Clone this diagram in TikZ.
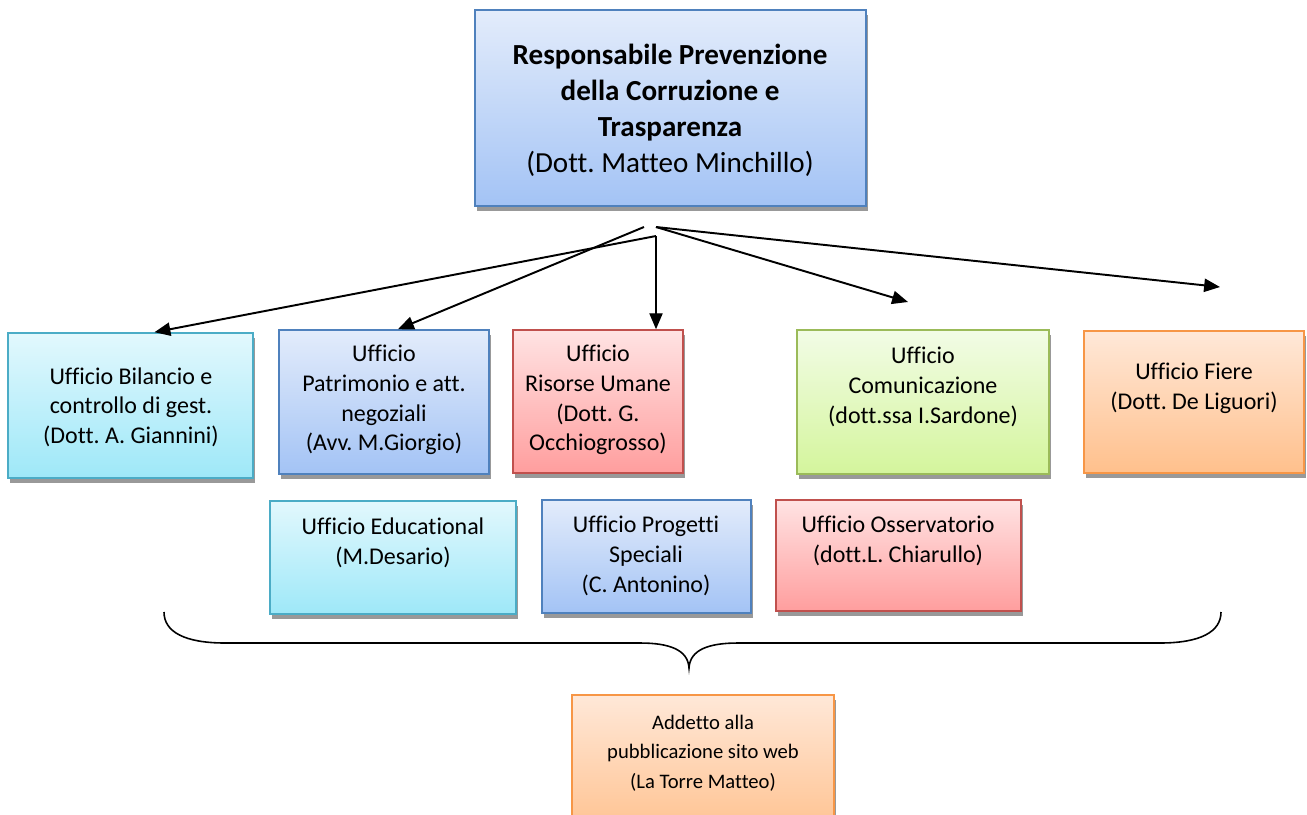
\documentclass[tikz,border=0pt]{standalone}
\usepackage{fontspec}
\setmainfont{Carlito}[Ligatures=NoCommon]
\frenchspacing
\usetikzlibrary{arrows.meta,calc,fit,shadows}
\definecolor{bluetop}{HTML}{E3ECFB}\definecolor{bluebot}{HTML}{A3C3F5}\definecolor{blueline}{HTML}{4F81BD}
\definecolor{cyantop}{HTML}{E2F8FD}\definecolor{cyanbot}{HTML}{9EE8F8}\definecolor{cyanline}{HTML}{4BACC6}
\definecolor{redtop}{HTML}{FFE3E3}\definecolor{redbot}{HTML}{FF9E9E}\definecolor{redline}{HTML}{C0504D}
\definecolor{greentop}{HTML}{F2FCE6}\definecolor{greenbot}{HTML}{D4F59C}\definecolor{greenline}{HTML}{9BBB59}
\definecolor{orangetop}{HTML}{FFE8D8}\definecolor{orangebot}{HTML}{FFC08C}\definecolor{orangeline}{HTML}{F79646}
\begin{document}
\begin{tikzpicture}[x=0.5669pt,y=-0.5669pt,
  box/.style={draw=#1line, line width=0.9pt, top color=#1top, bottom color=#1bot, inner sep=0pt,
    drop shadow={shadow xshift=1pt, shadow yshift=-2.6pt, fill=black!40, opacity=1}},
  txt/.style={align=center, inner sep=0pt, font=\fontsize{13.6}{16.8}\selectfont},
  arr/.style={-{Triangle[length=9pt,width=7.5pt]}, line width=1.1pt}]
\clip (0,0) rectangle (1307,814);
\fill[white] (0,0) rectangle (1307,814);
% boxes
\node[box=blue, fit={(475,10) (866,206)}] (top) {};
\node[box=cyan, fit={(8,333) (253,478)}] (bil) {};
\node[box=blue, fit={(279,330) (489,474)}] (pat) {};
\node[box=red, fit={(513,330) (683,473)}] (ris) {};
\node[box=green, fit={(797,330) (1049,474)}] (com) {};
\node[box=orange, fit={(1084,331) (1304,473)}] (fie) {};
\node[box=cyan, fit={(270,501) (516,614)}] (edu) {};
\node[box=blue, fit={(542,500) (751,613)}] (pro) {};
\node[box=red, fit={(776,500) (1021,611)}] (oss) {};
\node[box=orange, fit={(572,695) (834,840)}] (add) {};
% texts
\node[align=center, inner sep=0pt, font=\fontsize{16.5}{20.4}\selectfont] (topt) at (670,110)
  {\textbf{Responsabile Prevenzione}\\\textbf{della Corruzione e}\\\textbf{Trasparenza}\\ (Dott. Matteo Minchillo)};
\node[txt] (bilt) at (131,407) {Ufficio Bilancio e\\controllo di gest.\\(Dott. A. Giannini)};
\node[txt] (patt) at (384,400) {Ufficio\\Patrimonio e att.\\negoziali\\(Avv. M.Giorgio)};
\node[txt] (rist) at (598,400) {Ufficio\\Risorse Umane\\(Dott. G.\\Occhiogrosso)};
\node[txt] (comt) at (923,387) {Ufficio\\Comunicazione\\(dott.ssa I.Sardone)};
\node[txt] (fiet) at (1194,388) {Ufficio Fiere\\(Dott. De Liguori)};
\node[txt] (edut) at (393,543) {Ufficio Educational\\(M.Desario)};
\node[txt] (prot) at (646,556) {Ufficio Progetti\\Speciali\\(C. Antonino)};
\node[txt] (osst) at (898,541) {Ufficio Osservatorio\\(dott.L. Chiarullo)};
\node[align=center, inner sep=0pt, font=\fontsize{11.7}{16.7}\selectfont] (addt) at (703,753)
  {Addetto alla\\pubblicazione sito web\\(La Torre Matteo)};
% arrows
\coordinate (o1) at (644,227);
\coordinate (o2) at (656,236);
\coordinate (o3) at (656,227);
\coordinate (e4) at (908,302);
\coordinate (e5) at (1220,287);
\draw[arr] (o1) -- ($(pat.north)+(14,0)$);
\draw[arr] (o2) -- ($(bil.north)+(24,0)$);
\draw[arr, line width=0.7pt] (o2) -- (ris.north -| o2);
\draw[arr] (o3) -- (e4);
\draw[arr] (o3) -- (e5);
% brace
\draw[line width=0.9pt] (164,612) .. controls (164,632) and (185,643) .. (225,643) -- (640,643)
  .. controls (670,643) and (688,650) .. (689,668)
  .. controls (690,650) and (708,643) .. (738,643) -- (1160,643)
  .. controls (1200,643) and (1221,632) .. (1221,612);
\end{tikzpicture}
\end{document}
